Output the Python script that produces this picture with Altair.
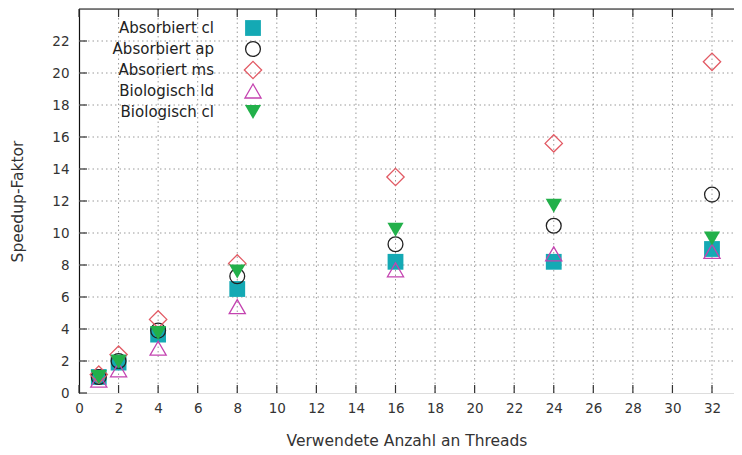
import altair as alt
import pandas as pd

threads = [1, 2, 4, 8, 16, 24, 32]
series_names = ["Absorbiert cl", "Absorbiert ap", "Absoriert ms", "Biologisch ld", "Biologisch cl"]
absorbiert_cl = [1.0, 1.9, 3.65, 6.5, 8.2, 8.2, 9.0]
absorbiert_ap = [1.0, 2.0, 3.9, 7.3, 9.3, 10.45, 12.4]
absoriert_ms = [1.15, 2.4, 4.6, 8.1, 13.5, 15.6, 20.7]
biologisch_ld = [0.8, 1.45, 2.8, 5.4, 7.7, 8.7, 8.85]
biologisch_cl = [1.0, 1.95, 3.75, 7.6, 10.2, 11.7, 9.65]
series_values = [absorbiert_cl, absorbiert_ap, absoriert_ms, biologisch_ld, biologisch_cl]

x_ticks = list(range(0, 33, 2))
y_ticks = list(range(0, 23, 2))

styles = [
    dict(shape="square", filled=True, color="#14a9b4", size=250),
    dict(shape="circle", filled=False, color="#222222", size=220),
    dict(shape="diamond", filled=False, color="#e25a64", size=300),
    dict(shape="triangle-up", filled=False, color="#c443b0", size=260),
    dict(shape="triangle-down", filled=True, color="#22b04a", size=260),
]

W, H = 655, 384
X_MAX = W / (633 / 32)
FONT = "DejaVu Sans"

xs = alt.Scale(domain=[0, X_MAX], nice=False, zero=False)
ys = alt.Scale(domain=[0, 24], nice=False, zero=False)

X_AX = alt.Axis(
    values=x_ticks, title="Verwendete Anzahl an Threads", grid=False, ticks=False,
    tickSize=0, domain=False, labelPadding=8, labelFont=FONT, labelFontSize=13.5,
    labelColor="#333333", titleFont=FONT, titleFontSize=15.5, titleFontWeight="normal",
    titleColor="#333333", titlePadding=19, labelFlush=False)
Y_AX = alt.Axis(
    values=y_ticks, title="Speedup-Faktor", grid=False, ticks=False, tickSize=0,
    domain=True, domainColor="#111111", domainWidth=1.2, labelPadding=10,
    labelFont=FONT, labelFontSize=13.5, labelColor="#333333", titleFont=FONT,
    titleFontSize=15.5, titleFontWeight="normal", titleColor="#333333",
    titlePadding=26, labelFlush=False)


def X(field):
    return alt.X(field, scale=xs, axis=X_AX)


def Y(field):
    return alt.Y(field, scale=ys, axis=Y_AX)


# grid lines
grid_x = alt.Chart(pd.DataFrame({"t": x_ticks[1:]})).mark_rule(
    color="#9a9a9a", strokeDash=[1.5, 3], strokeWidth=1
).encode(x=X("t:Q"), y=alt.value(0), y2=alt.value(H))
grid_y = alt.Chart(pd.DataFrame({"t": y_ticks[1:]})).mark_rule(
    color="#9a9a9a", strokeDash=[1.5, 3], strokeWidth=1
).encode(y=Y("t:Q"), x=alt.value(0), x2=alt.value(W))

tick_color = "#333333"
ticks_bottom = alt.Chart(pd.DataFrame({"t": x_ticks})).mark_rule(color=tick_color, strokeWidth=1.2).encode(
    x=X("t:Q"), y=alt.value(H), y2=alt.value(H - 8))
ticks_top = alt.Chart(pd.DataFrame({"t": x_ticks})).mark_rule(color=tick_color, strokeWidth=1.2).encode(
    x=X("t:Q"), y=alt.value(0), y2=alt.value(8))
ticks_left = alt.Chart(pd.DataFrame({"t": y_ticks})).mark_rule(color=tick_color, strokeWidth=1.2).encode(
    y=Y("t:Q"), x=alt.value(0), x2=alt.value(8))
top_border = alt.Chart(pd.DataFrame({"x": [0]})).mark_rule(color="#111111", strokeWidth=1.2).encode(
    x=alt.value(0), x2=alt.value(W), y=alt.value(0))

layers = [grid_x, grid_y, ticks_bottom, ticks_top, ticks_left, top_border]


def mark_style(st):
    mk = dict(shape=st["shape"], size=st["size"], color=st["color"], strokeWidth=1.3, opacity=1)
    if st["filled"]:
        mk.update(filled=True, fill=st["color"])
    else:
        mk.update(filled=False)
    return mk


for name, vals, st in zip(series_names, series_values, styles):
    df = pd.DataFrame({"threads": threads, "speedup": vals, "series": name})
    pts = alt.Chart(df).mark_point(**mark_style(st)).encode(
        x=X("threads:Q"),
        y=Y("speedup:Q"),
    )
    layers.append(pts)

legend_scale = alt.Scale(type="point", domain=series_names, range=[19, 103], padding=0)
legend_df = pd.DataFrame({"series": series_names})
legend_text = alt.Chart(legend_df).mark_text(
    align="right", baseline="middle", font=FONT, fontSize=15, color="#222222"
).encode(
    x=alt.value(135),
    y=alt.Y("series:N", scale=legend_scale, axis=None),
    text="series:N",
)
legend_layers = [legend_text]
for name, st in zip(series_names, styles):
    legend_layers.append(
        alt.Chart(pd.DataFrame({"series": [name]})).mark_point(**mark_style(st)).encode(
            x=alt.value(174),
            y=alt.Y("series:N", scale=legend_scale, axis=None),
        )
    )

main = alt.layer(*layers)
leg = alt.layer(*legend_layers)

chart = alt.layer(main, leg).resolve_scale(y="independent").properties(
    width=W, height=H,
    autosize=alt.AutoSizeParams(type="none"),
    padding={"left": 71, "top": 1, "right": 0, "bottom": 60},
).configure_view(stroke=None).configure(background="white")

chart.save("out.html", embed_options={"renderer": "svg", "actions": False})
